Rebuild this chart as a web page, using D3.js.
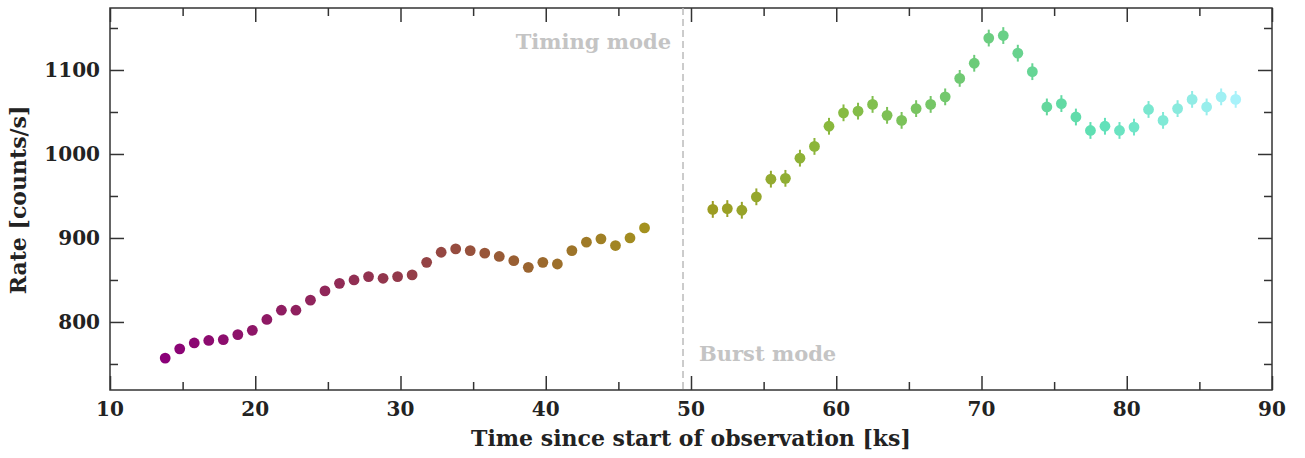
<!DOCTYPE html>
<html>
<head>
<meta charset="utf-8">
<script src="https://cdn.jsdelivr.net/npm/d3@7"></script>
<style>
  body { margin: 0; background: #fff; }
  svg text { font-family: "DejaVu Serif", serif; font-weight: bold; fill: #222; }
</style>
</head>
<body>
<svg id="chart"></svg>
<script>
let width = 1305;
let height = 458;
let margin = {top: 8, right: 33, bottom: 68, left: 110};

// timing mode data (ks, counts/s)
let timing_time = [13.8, 14.8, 15.8, 16.8, 17.8, 18.8, 19.8, 20.8, 21.8, 22.8, 23.8, 24.8,
    25.8, 26.8, 27.8, 28.8, 29.8, 30.8, 31.8, 32.8, 33.8, 34.8, 35.8, 36.8, 37.8, 38.8,
    39.8, 40.8, 41.8, 42.8, 43.8, 44.8, 45.8, 46.8];
let timing_rate = [757, 768, 775, 778, 779, 785, 790, 803, 814, 814, 826, 837,
    846, 850, 854, 852, 854, 856, 871, 883, 887, 885, 882, 878, 873, 865,
    871, 869, 885, 895, 899, 891, 900, 912];
let timing_err = 3;

// burst mode data
let burst_time = [51.5, 52.5, 53.5, 54.5, 55.5, 56.5, 57.5, 58.5, 59.5, 60.5, 61.5, 62.5,
    63.5, 64.5, 65.5, 66.5, 67.5, 68.5, 69.5, 70.5, 71.5, 72.5, 73.5, 74.5, 75.5, 76.5,
    77.5, 78.5, 79.5, 80.5, 81.5, 82.5, 83.5, 84.5, 85.5, 86.5, 87.5];
let burst_rate = [934, 935, 933, 949, 970, 971, 995, 1009, 1033, 1049, 1051, 1059,
    1046, 1040, 1054, 1059, 1068, 1090, 1108, 1138, 1141, 1120, 1098, 1056, 1060, 1044,
    1028, 1033, 1028, 1032, 1053, 1040, 1054, 1065, 1056, 1068, 1065];
let burst_err = 10;

let mode_switch = 49.45;

let x_ticks = [10, 20, 30, 40, 50, 60, 70, 80, 90];
let y_ticks = [800, 900, 1000, 1100];

// colour along time
let color_stops_t = [13.8, 30, 40, 47, 51.5, 60, 70, 78, 87.5];
let color_stops_c = ["#8a0078", "#933a4a", "#9b6a2c", "#a4921f", "#9c9c22", "#88ba3f", "#6ccc7c", "#5ee0b6", "#a8f2fa"];
let color = d3.scaleLinear().domain(color_stops_t).range(color_stops_c).interpolate(d3.interpolateRgb);

let svg = d3.select("#chart").attr("width", width).attr("height", height);

let x = d3.scaleLinear().domain([10, 90]).range([margin.left, width - margin.right]);
let y = d3.scaleLinear().domain([719, 1173.8]).range([height - margin.bottom, margin.top]);

let x_minor = d3.range(15, 90, 10);
let y_minor = d3.range(750, 1200, 100);

// 轴：四边都有朝内的刻度
function tickAxis(axisFn, scale, values, len) {
    return axisFn(scale).tickValues(values).tickSizeInner(len).tickSizeOuter(0).tickFormat("");
}

let frame_color = "#333";
let gx = svg.append("g").attr("transform", `translate(0,${y.range()[0]})`);
gx.call(tickAxis(d3.axisTop, x, x_ticks, 14));
gx.append("g").call(tickAxis(d3.axisTop, x, x_minor, 8));
let gxt = svg.append("g").attr("transform", `translate(0,${y.range()[1]})`);
gxt.call(tickAxis(d3.axisBottom, x, x_ticks, 14));
gxt.append("g").call(tickAxis(d3.axisBottom, x, x_minor, 8));
let gy = svg.append("g").attr("transform", `translate(${x.range()[0]},0)`);
gy.call(tickAxis(d3.axisRight, y, y_ticks, 14));
gy.append("g").call(tickAxis(d3.axisRight, y, y_minor, 8));
let gyr = svg.append("g").attr("transform", `translate(${x.range()[1]},0)`);
gyr.call(tickAxis(d3.axisLeft, y, y_ticks, 14));
gyr.append("g").call(tickAxis(d3.axisLeft, y, y_minor, 8));
svg.selectAll(".domain").remove();
svg.selectAll(".tick line").attr("stroke", frame_color).attr("stroke-width", 1.5);

svg.append("rect")
    .attr("x", x.range()[0]).attr("y", y.range()[1])
    .attr("width", x.range()[1] - x.range()[0])
    .attr("height", y.range()[0] - y.range()[1])
    .attr("fill", "none").attr("stroke", frame_color).attr("stroke-width", 1.5);

// tick labels
svg.append("g").selectAll("text").data(x_ticks).join("text")
    .attr("x", d => x(d)).attr("y", y.range()[0] + 26)
    .attr("text-anchor", "middle").style("font-size", "20px")
    .text(d => d);
svg.append("g").selectAll("text").data(y_ticks).join("text")
    .attr("x", x.range()[0] - 10).attr("y", d => y(d) + 7)
    .attr("text-anchor", "end").style("font-size", "20px")
    .text(d => d);

// axis titles
svg.append("text")
    .attr("x", (x.range()[0] + x.range()[1]) / 2).attr("y", 446)
    .attr("text-anchor", "middle").style("font-size", "22px")
    .text("Time since start of observation [ks]");
svg.append("text")
    .attr("transform", `translate(26,${(y.range()[0] + y.range()[1]) / 2 + 1}) rotate(-90)`)
    .attr("text-anchor", "middle").style("font-size", "22px")
    .text("Rate [counts/s]");

// mode switch
svg.append("line")
    .attr("x1", x(mode_switch)).attr("x2", x(mode_switch))
    .attr("y1", y.range()[1]).attr("y2", y.range()[0])
    .attr("stroke", "#bbb").attr("stroke-width", 1.5).attr("stroke-dasharray", "7,4");
svg.append("text")
    .attr("x", x(mode_switch) - 12).attr("y", 49)
    .attr("text-anchor", "end").style("font-size", "21px").style("fill", "#c4c4c4")
    .text("Timing mode");
svg.append("text")
    .attr("x", x(mode_switch) + 16).attr("y", 361)
    .attr("text-anchor", "start").style("font-size", "21px").style("fill", "#c4c4c4")
    .text("Burst mode");

// data
let points = timing_time.map((t, i) => ({t: t, r: timing_rate[i], e: timing_err}))
    .concat(burst_time.map((t, i) => ({t: t, r: burst_rate[i], e: burst_err})));

let pg = svg.append("g").selectAll("g").data(points).join("g");
pg.append("line")
    .attr("x1", d => x(d.t)).attr("x2", d => x(d.t))
    .attr("y1", d => y(d.r - d.e)).attr("y2", d => y(d.r + d.e))
    .attr("stroke", d => color(d.t)).attr("stroke-width", 2);
pg.append("circle")
    .attr("cx", d => x(d.t)).attr("cy", d => y(d.r))
    .attr("r", 5.4)
    .attr("fill", d => color(d.t));
</script>
</body>
</html>
